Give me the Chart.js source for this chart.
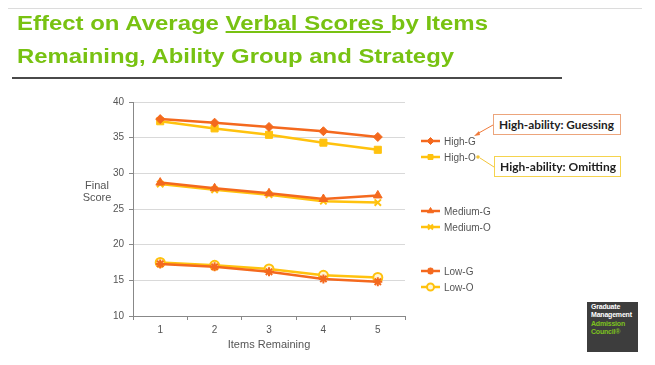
<!DOCTYPE html>
<html>
<head>
<meta charset="utf-8">
<script src="https://cdn.jsdelivr.net/npm/chart.js@4"></script>
<style>
  html, body { margin: 0; padding: 0; background: #fff; }
  #page { position: relative; width: 655px; height: 365px; overflow: hidden; }
  #chart { position: absolute; left: 0; top: 0; }
  .title { position: absolute; left: 17px; font: bold 20px "Liberation Sans", Arial, sans-serif; color: #78c212; white-space: nowrap; transform-origin: 0 0; }
  .note { position: absolute; height: 19px; background: #fff; font: bold 12px Lato, sans-serif; color: #1e1e1e; line-height: 19px; white-space: nowrap; }
  .note span { display: inline-block; transform-origin: 0 50%; padding-left: 5px; }
  .axlabel { position: absolute; font: 11px "Liberation Sans", Arial, sans-serif; color: #555; text-align: center; line-height: 12px; }
  #logo { position: absolute; left: 587px; top: 302px; width: 51px; height: 50px; background: #3d3d3d; font: bold 7px "Liberation Sans", Arial, sans-serif; line-height: 8.3px; color: #fff; box-sizing: border-box; padding: 1px 0 0 4px; letter-spacing: -0.2px; }
</style>
</head>
<body>
<div id="page">
  <canvas id="chart" width="655" height="365"></canvas>
  <div style="position:absolute;left:8px;top:8px;width:634px;height:1px;background:#dcdcdc"></div>
  <div class="title" id="t1" style="top:12px">Effect on Average <u>Verbal Scores </u>by Items</div>
  <div class="title" id="t2" style="top:45px">Remaining, Ability Group and Strategy</div>
  <div style="position:absolute;left:12px;top:77px;width:550px;height:2px;background:#4a4a4a"></div>
  <div class="axlabel" style="left:77px;top:179px;width:40px">Final<br>Score</div>
  <div class="note" style="left:493px;top:114px;width:126px;border:1px solid #eca57c"><span id="n1">High-ability: Guessing</span></div>
  <div class="note" style="left:494px;top:156px;width:125px;border:1px solid #f5d34e"><span id="n2">High-ability: Omitting</span></div>
  <svg style="position:absolute;left:0;top:0" width="655" height="365">
    <line x1="493" y1="125" x2="477" y2="134" stroke="#f07a3a" stroke-width="1"/>
    <polygon points="474,136 479,131 480,135" fill="#f07a3a"/>
    <line x1="494" y1="167" x2="480" y2="158" stroke="#f2c43a" stroke-width="1"/>
    <circle cx="478" cy="157" r="1.8" fill="#f2c43a"/>
  </svg>
  <div id="logo">Graduate<br>Management<br><span style="color:#7dc21e">Admission<br>Council&reg;</span></div>
</div>
<script>
const categories = ['1', '2', '3', '4', '5'];
const yTicks = [10, 15, 20, 25, 30, 35, 40];
const seriesNames = ['High-G', 'High-O', 'Medium-G', 'Medium-O', 'Low-G', 'Low-O'];
const highG = [37.6, 37.1, 36.5, 35.9, 35.1];
const highO = [37.3, 36.3, 35.4, 34.3, 33.3];
const mediumG = [28.7, 27.9, 27.2, 26.4, 26.9];
const mediumO = [28.5, 27.7, 27.0, 26.1, 25.9];
const lowG = [17.3, 16.9, 16.2, 15.2, 14.8];
const lowO = [17.5, 17.1, 16.6, 15.7, 15.4];

const ORANGE = '#f4691e';
const GOLD = '#ffc20e';

// squeeze text horizontally so it spans the same width as the reference
function fit(id, width) {
  const el = document.getElementById(id);
  const w = el.getBoundingClientRect().width;
  el.style.transform = 'scaleX(' + (width / w) + ')';
}
fit('t1', 471);
fit('t2', 437);
fit('n1', 120);
fit('n2', 121);

function ds(label, data, color, style, radius, bg) {
  return {
    label: label,
    data: data,
    borderColor: color,
    backgroundColor: bg || color,
    pointStyle: style,
    pointRadius: radius,
    pointBorderWidth: style === 'crossRot' || style === 'star' || style === 'circle' ? 2 : 1,
    borderWidth: 2.5,
    tension: 0,
    fill: false,
  };
}

const datasets = [
  ds(seriesNames[0], highG, ORANGE, 'rectRot', 4.5),
  ds(seriesNames[1], highO, GOLD, 'rect', 5),
  ds(seriesNames[2], mediumG, ORANGE, 'triangle', 5),
  ds(seriesNames[3], mediumO, GOLD, 'crossRot', 4.5),
  ds(seriesNames[4], lowG, ORANGE, 'star', 4.5),
  ds(seriesNames[5], lowO, GOLD, 'circle', 4.5, '#fff6d6'),
];

// rows of the side legend, in px below the top of the plot
const legendRows = [39, 55, 109, 125, 169, 185];

const sideLegend = {
  id: 'sideLegend',
  afterDraw(chart) {
    const ctx = chart.ctx;
    const area = chart.chartArea;
    ctx.save();
    chart.data.datasets.forEach((d, i) => {
      const y = area.top + legendRows[i];
      const x0 = area.right + 16;
      ctx.strokeStyle = d.borderColor;
      ctx.lineWidth = 2.5;
      ctx.beginPath();
      ctx.moveTo(x0, y);
      ctx.lineTo(x0 + 19, y);
      ctx.stroke();
      ctx.fillStyle = d.backgroundColor;
      ctx.lineWidth = d.pointBorderWidth;
      Chart.helpers.drawPoint(ctx, {
        pointStyle: d.pointStyle, radius: Math.min(d.pointRadius, 3.5), rotation: 0, borderWidth: d.pointBorderWidth,
      }, x0 + 9.5, y);
      ctx.fillStyle = '#555';
      ctx.font = '10px "Liberation Sans", Arial, sans-serif';
      ctx.textBaseline = 'middle';
      ctx.fillText(d.label, x0 + 23, y + 1);
    });
    ctx.restore();
  },
};

new Chart(document.getElementById('chart').getContext('2d'), {
  type: 'line',
  data: { labels: categories, datasets: datasets },
  options: {
    responsive: false,
    devicePixelRatio: 1,
    animation: false,
    layout: { padding: { left: 0, right: 250, top: 102, bottom: 0 } },
    plugins: { legend: { display: false }, tooltip: { enabled: false } },
    scales: {
      x: {
        offset: true,
        afterFit(scale) { scale.height = 49; },
        grid: { offset: true, drawOnChartArea: false, tickLength: 4, tickColor: '#888' },
        border: { color: '#888', width: 1 },
        ticks: { color: '#555', font: { family: 'Liberation Sans', size: 10 }, padding: 4 },
        title: {
          display: true, text: 'Items Remaining', color: '#555',
          font: { family: 'Liberation Sans', size: 11 }, padding: { top: 4, bottom: 13 },
        },
      },
      y: {
        min: 10,
        max: 40,
        afterFit(scale) { scale.width = 133; },
        afterBuildTicks(scale) { scale.ticks = yTicks.map((v) => ({ value: v })); },
        grid: { color: '#d9d9d9', tickLength: 4, tickColor: '#888' },
        border: { color: '#888', width: 1 },
        ticks: { color: '#555', font: { family: 'Liberation Sans', size: 10 }, padding: 5 },
      },
    },
  },
  plugins: [sideLegend],
});
</script>
</body>
</html>
